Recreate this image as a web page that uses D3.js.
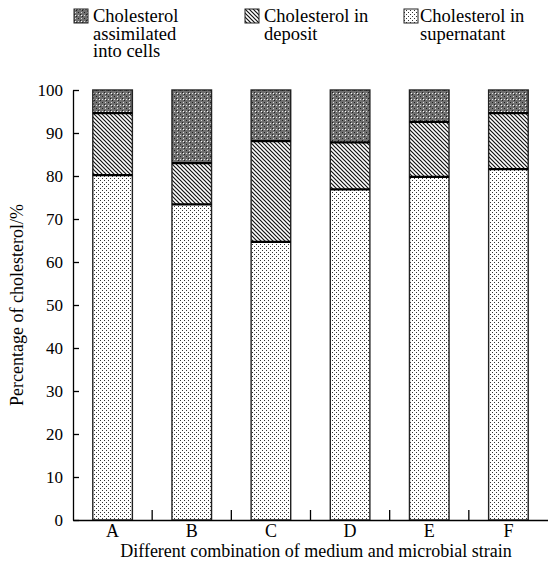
<!DOCTYPE html>
<html><head><meta charset="utf-8">
<script src="https://cdn.jsdelivr.net/npm/d3@7"></script>
<style>body{margin:0;background:#fff}svg{display:block}text{font-family:"Times New Roman","Liberation Serif",Times,"DejaVu Serif",serif;fill:#000}</style>
</head><body><svg id="c" width="548" height="566"></svg>
<script>
const categories = ["A","B","C","D","E","F"];
const supernatant = [80.2, 73.4, 64.7, 76.9, 79.8, 81.6];
const deposit = [14.4, 9.6, 23.4, 10.9, 12.8, 13.0];
const cells = [5.4, 17.0, 11.9, 12.2, 7.4, 5.4];
const seriesNames = ["Cholesterol in supernatant","Cholesterol in deposit","Cholesterol assimilated into cells"];
const yTicks = [0,10,20,30,40,50,60,70,80,90,100];
const FF = '"Times New Roman","Liberation Serif",Times,"DejaVu Serif",serif';

const svg = d3.select("#c");
const defs = svg.append("defs");
const pSup = defs.append("pattern").attr("id","pSup").attr("patternUnits","userSpaceOnUse").attr("width",4).attr("height",4);
pSup.append("rect").attr("width",4).attr("height",4).attr("fill","#fff");
pSup.append("rect").attr("x",0).attr("y",0).attr("width",1).attr("height",1).attr("fill","#333");
pSup.append("rect").attr("x",2).attr("y",2).attr("width",1).attr("height",1).attr("fill","#333");
const pDep = defs.append("pattern").attr("id","pDep").attr("patternUnits","userSpaceOnUse").attr("width",4).attr("height",4);
pDep.append("rect").attr("width",4).attr("height",4).attr("fill","#fff");
pDep.append("path").attr("d","M-1,-1L5,5M-1,3L1,5M3,-1L5,1").attr("stroke","#111").attr("stroke-width",1.2);
const pCel = defs.append("pattern").attr("id","pCel").attr("patternUnits","userSpaceOnUse").attr("width",6).attr("height",6);
pCel.append("rect").attr("width",6).attr("height",6).attr("fill","#707070");
pCel.append("rect").attr("x",0).attr("y",0).attr("width",1).attr("height",1).attr("fill","#222");
pCel.append("rect").attr("x",2).attr("y",2).attr("width",1).attr("height",1).attr("fill","#222");
pCel.append("rect").attr("x",4).attr("y",4).attr("width",1).attr("height",1).attr("fill","#222");
pCel.append("rect").attr("x",3).attr("y",0).attr("width",1).attr("height",1).attr("fill","#ddd");
pCel.append("rect").attr("x",0).attr("y",3).attr("width",1).attr("height",1).attr("fill","#ddd");
pCel.append("rect").attr("x",3).attr("y",3).attr("width",1).attr("height",1).attr("fill","#fff");
const fills = ["url(#pSup)","url(#pDep)","url(#pCel)"];

const x = d3.scaleBand().domain(categories).range([73,548]).paddingInner(0.5).paddingOuter(0.25);
const y = d3.scaleLinear().domain([0,100]).range([520,90]);

const data = categories.map((c,i)=>({cat:c, v:[supernatant[i],deposit[i],cells[i]]}));

data.forEach(d=>{
  let base=0;
  const g = svg.append("g");
  d.v.forEach((v,k)=>{
    const top = base+v;
    g.append("rect").attr("x",x(d.cat)).attr("y",y(top)).attr("width",x.bandwidth()).attr("height",y(base)-y(top)).attr("fill",fills[k]);
    base=top;
  });
  g.append("rect").attr("x",x(d.cat)).attr("y",y(100)).attr("width",x.bandwidth()).attr("height",y(0)-y(100))
    .attr("fill","none").attr("stroke","#222").attr("stroke-width",1.4);
  let b=0;
  d.v.slice(0,2).forEach(v=>{
    b+=v;
    g.append("line").attr("x1",x(d.cat)).attr("x2",x(d.cat)+x.bandwidth()).attr("y1",y(b)).attr("y2",y(b))
      .attr("stroke","#000").attr("stroke-width",2.2);
  });
});

const ya = svg.append("g").attr("transform","translate(73,0)")
  .call(d3.axisLeft(y).tickValues(yTicks).tickSizeInner(-6).tickSizeOuter(0).tickPadding(10));
ya.attr("font-family",null);
ya.select(".domain").attr("stroke","#000").attr("stroke-width",1.3);
ya.selectAll(".tick line").attr("stroke","#000").attr("stroke-width",1.3);
ya.selectAll(".tick text").style("font-family",FF).style("font-size","17px").attr("dy","0.35em");

const xa = svg.append("g").attr("transform","translate(0,520)")
  .call(d3.axisBottom(x).tickSize(0).tickPadding(4));
xa.attr("font-family",null);
xa.select(".domain").attr("stroke","#000").attr("stroke-width",1.6);
xa.selectAll(".tick text").style("font-family",FF).style("font-size","18px");
const seps = categories.slice(1).map(c=>x(c)-x.step()*x.paddingInner()/2);
svg.append("g").selectAll("line").data(seps).join("line")
  .attr("x1",d=>d).attr("x2",d=>d).attr("y1",510).attr("y2",520).attr("stroke","#000").attr("stroke-width",1.3);

svg.append("text").attr("x",316).attr("y",557).attr("text-anchor","middle").style("font-family",FF).style("font-size","18px")
  .text("Different combination of medium and microbial strain");
svg.append("text").attr("transform","translate(23,305) rotate(-90)").attr("text-anchor","middle").style("font-family",FF).style("font-size","18px")
  .text("Percentage of cholesterol/%");

const legend = [
  {fill:fills[2], lines:["Cholesterol","assimilated","into cells"], sx:74, tx:93},
  {fill:fills[1], lines:["Cholesterol in","deposit"], sx:245, tx:264},
  {fill:fills[0], lines:["Cholesterol in","supernatant"], sx:404, tx:420}
];
legend.forEach(l=>{
  svg.append("rect").attr("x",l.sx).attr("y",9).attr("width",14).attr("height",14).attr("fill",l.fill).attr("stroke","#222").attr("stroke-width",1);
  l.lines.forEach((s,i)=>svg.append("text").attr("x",l.tx).attr("y",22+i*17.5).style("font-family",FF).style("font-size","18.5px").text(s));
});
</script></body></html>
